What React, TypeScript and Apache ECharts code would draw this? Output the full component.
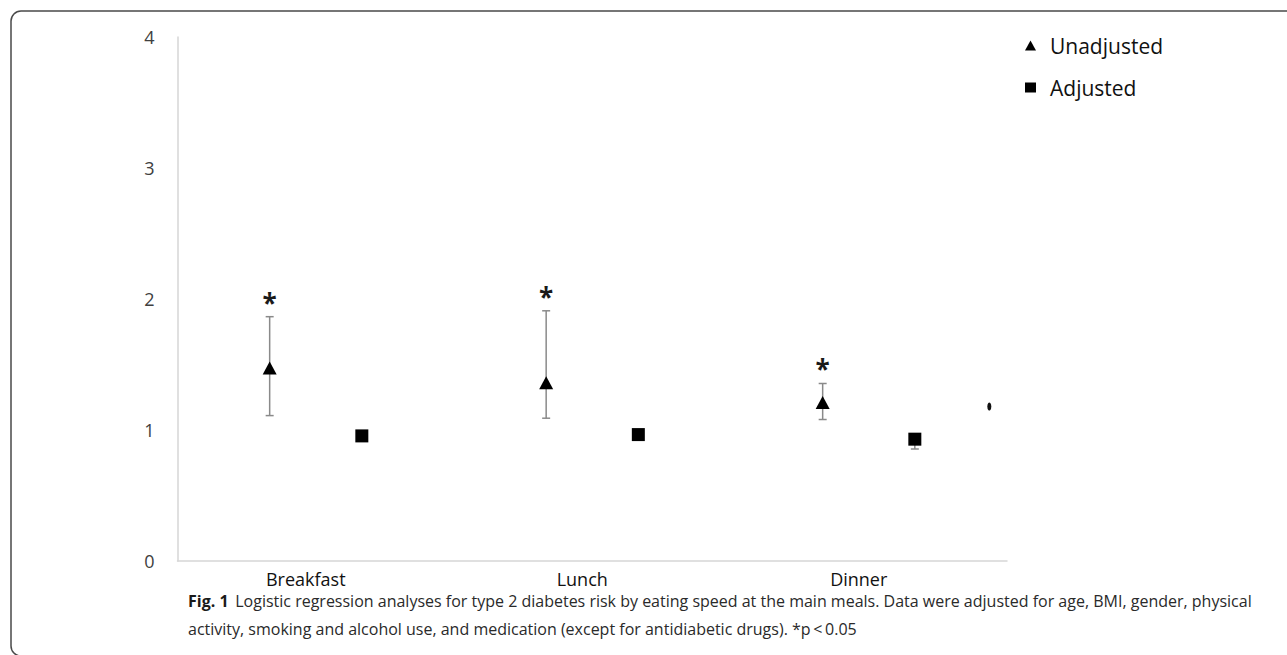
import React, { useEffect, useRef } from "react";
import * as echarts from "echarts";

const categories = ["Breakfast", "Lunch", "Dinner"];
const unadjustedOR = [1.473, 1.36, 1.21];
const unadjustedLow = [1.11, 1.09, 1.08];
const unadjustedHigh = [1.865, 1.91, 1.355];
const adjustedOR = [0.955, 0.965, 0.93];
const adjustedLow = [0.93, 0.94, 0.855];
const adjustedHigh = [0.975, 0.985, 0.96];
const significant = [true, true, true];
const strayPoint = [[2.936, 1.18]];
const yTicks = [0, 1, 2, 3, 4];
const captionLine1 =
  "Logistic regression analyses for type 2 diabetes risk by eating speed at the main meals. Data were adjusted for age, BMI, gender, physical";
const captionLine2 =
  "activity, smoking and alcohol use, and medication (except for antidiabetic drugs). *p\u2009<\u20090.05";

const UNADJ_OFFSET = 1 / 3;
const ADJ_OFFSET = 2 / 3;
const FONT = "'Open Sans', 'Noto Sans', sans-serif";

export default function App() {
  const ref = useRef<HTMLDivElement>(null);
  useEffect(() => {
    if (!ref.current) return;
    const chart = echarts.init(ref.current, null, { renderer: "svg" });

    const unadjPts = unadjustedOR.map((v, i) => [i + UNADJ_OFFSET, v]);
    const adjPts = adjustedOR.map((v, i) => [i + ADJ_OFFSET, v]);
    const errData = [
      ...unadjustedOR.map((_, i) => [i + UNADJ_OFFSET, unadjustedLow[i], unadjustedHigh[i], significant[i] ? 1 : 0]),
      ...adjustedOR.map((_, i) => [i + ADJ_OFFSET, adjustedLow[i], adjustedHigh[i], 0]),
    ];

    const renderErr = (params: any, api: any) => {
      const x = api.value(0);
      const lo = api.coord([x, api.value(1)]);
      const hi = api.coord([x, api.value(2)]);
      const cap = 4;
      const st = { stroke: "#8a8a8a", lineWidth: 1.5 };
      const children: any[] = [
        { type: "line", shape: { x1: lo[0], y1: lo[1], x2: hi[0], y2: hi[1] }, style: st },
        { type: "line", shape: { x1: lo[0] - cap, y1: lo[1], x2: lo[0] + cap, y2: lo[1] }, style: st },
        { type: "line", shape: { x1: hi[0] - cap, y1: hi[1], x2: hi[0] + cap, y2: hi[1] }, style: st },
      ];
      if (api.value(3) === 1) {
        children.push({
          type: "text",
          x: hi[0],
          y: hi[1] - 1,
          style: {
            text: "*",
            fontSize: 26,
            fontWeight: "bold",
            fontFamily: FONT,
            fill: "#1a1a1a",
            align: "center",
            verticalAlign: "bottom",
          },
        });
      }
      return { type: "group", children };
    };

    chart.setOption({
      animation: false,
      backgroundColor: "#ffffff",
      grid: { left: 177.5, right: 280, top: 37, bottom: 94, containLabel: false },
      legend: {
        orient: "vertical",
        left: 1020,
        top: 30,
        itemGap: 21,
        itemWidth: 11,
        itemHeight: 10,
        textStyle: { fontSize: 21, fontFamily: FONT, color: "#111", padding: [0, 0, 0, 9] },
        data: [
          { name: "Unadjusted", icon: "triangle" },
          { name: "Adjusted", icon: "rect" },
        ],
      },
      xAxis: {
        type: "value",
        min: 0,
        max: 3,
        interval: 0.5,
        axisLine: { show: true, lineStyle: { color: "#d6d6d6", width: 1.5 } },
        axisTick: { show: false },
        splitLine: { show: false },
        axisLabel: {
          fontSize: 18,
          lineHeight: 20,
          fontFamily: FONT,
          color: "#111",
          margin: 8,
          padding: [0, 20, 0, 0],
          showMinLabel: true,
          showMaxLabel: true,
          formatter: (v: number) => {
            const i = Math.floor(v);
            return Math.abs(v - i - 0.5) < 1e-6 && categories[i] ? categories[i] : "";
          },
        },
      },
      yAxis: {
        type: "value",
        min: yTicks[0],
        max: yTicks[yTicks.length - 1],
        interval: 1,
        axisLine: { show: true, lineStyle: { color: "#d6d6d6", width: 1.5 } },
        axisTick: { show: false },
        splitLine: { show: false },
        axisLabel: { fontSize: 18, fontFamily: FONT, color: "#404040", margin: 23 },
      },
      series: [
        {
          type: "custom",
          name: "errors",
          renderItem: renderErr,
          data: errData,
          z: 1,
          encode: { x: 0, y: [1, 2] },
        },
        {
          type: "scatter",
          name: "Unadjusted",
          symbol: "triangle",
          symbolSize: [14, 13],
          itemStyle: { color: "#000", opacity: 1 },
          data: unadjPts,
          z: 3,
        },
        {
          type: "scatter",
          name: "Adjusted",
          symbol: "rect",
          symbolSize: [13, 13],
          itemStyle: { color: "#000", opacity: 1 },
          data: adjPts,
          z: 3,
        },
        {
          type: "scatter",
          name: "stray",
          symbol: "circle",
          symbolSize: [4, 8],
          itemStyle: { color: "#111", opacity: 1 },
          data: strayPoint,
          z: 3,
        },
      ],
      graphic: [
        {
          type: "rect",
          shape: { x: 11, y: 11, width: 1300, height: 645, r: 10 },
          style: { fill: "none", stroke: "#4a4a4a", lineWidth: 1.5 },
          silent: true,
        },
        {
          type: "text",
          left: 188,
          top: 593,
          style: {
            text: "{b|Fig. 1}  {n|" + captionLine1 + "}",
            rich: {
              b: { fontSize: 16, lineHeight: 18, fontWeight: "bold", fontFamily: FONT, fill: "#1a1a1a" },
              n: { fontSize: 16, lineHeight: 18, fontFamily: FONT, fill: "#2a2a2a" },
            },
          },
        },
        {
          type: "text",
          left: 188,
          top: 620,
          style: {
            text: captionLine2,
            fontSize: 16,
            lineHeight: 18,
            fontFamily: FONT,
            fill: "#2a2a2a",
          },
        },
      ],
    });
    return () => chart.dispose();
  }, []);
  return (
    <div
      ref={ref}
      style={{ position: "fixed", left: 0, top: 0, width: 1287, height: 655 }}
    />
  );
}
